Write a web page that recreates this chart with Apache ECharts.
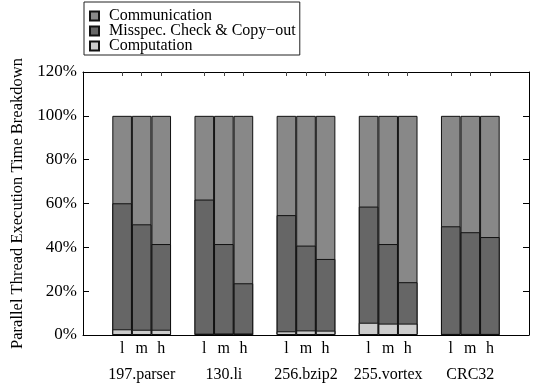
<!DOCTYPE html>
<html>
<head>
<meta charset="utf-8">
<script src="https://cdn.jsdelivr.net/npm/echarts@6/dist/echarts.min.js"></script>
<style>
html,body{margin:0;padding:0;background:#fff;}
#chart{width:536px;height:383px;}
</style>
</head>
<body>
<div id="chart"></div>
<script>
// ---- data ----
var groups = ['197.parser', '130.li', '256.bzip2', '255.vortex', 'CRC32'];
var levels = ['l', 'm', 'h'];
// values per bar (group-major, then l/m/h), percent of total time
var computation   = [2.6, 2.4, 2.4,  0.6, 0.7, 0.7,  1.7, 2.1, 2.0,  5.6, 5.2, 5.2,  0.5, 0.5, 0.5];
var misspec       = [57.5, 48.1, 39.1,  61.2, 40.8, 22.9,  53.0, 38.7, 32.7,  53.0, 36.3, 18.9,  49.1, 46.4, 44.2];
var communication = [39.9, 49.5, 58.5,  38.2, 58.5, 76.4,  45.3, 59.2, 65.3,  41.4, 58.5, 75.9,  50.4, 53.1, 55.3];
var yTicks = [0, 20, 40, 60, 80, 100, 120];

// ---- layout helpers ----
var BAR_UNIT = 5;      // one bar = 5 x-units
var GROUP_STRIDE = 21; // x-units between groups
var FONT = 'Liberation Serif';

var barPos = [], barLabel = {}, groupPos = [], groupLabel = {};
groups.forEach(function (g, gi) {
  levels.forEach(function (lv, li) {
    var x = gi * GROUP_STRIDE + li * BAR_UNIT;
    barPos.push(x);
    barLabel[x] = lv;
  });
  var c = gi * GROUP_STRIDE + BAR_UNIT;
  groupPos.push(c);
  groupLabel[c] = g;
});

function cumulative(parts) {
  return barPos.map(function (x, i) {
    var s = 0;
    parts.forEach(function (p) { s += p[i]; });
    return [x, s];
  });
}

var colors = { comm: '#888888', mis: '#666666', comp: '#cccccc' };
function barSeries(name, color, data) {
  return {
    name: name, type: 'bar', data: data,
    barWidth: 19.6, barGap: '-100%',
    itemStyle: { color: color, borderColor: '#111', borderWidth: 1 },
    emphasis: { disabled: true }, animation: false
  };
}
var axisLine = { show: true, onZero: false, lineStyle: { color: '#000', width: 1 } };

var chart = echarts.init(document.getElementById('chart'), null, { renderer: 'canvas' });
chart.setOption({
  animation: false,
  textStyle: { fontFamily: FONT },
  legend: {
    orient: 'vertical', left: 84, top: 2,
    data: ['Communication', 'Misspec. Check & Copy\u2212out', 'Computation'],
    icon: 'rect', itemWidth: 9, itemHeight: 9, itemGap: -1,
    padding: [6, 4, 1, 5],
    borderColor: '#222', borderWidth: 1,
    textStyle: { fontFamily: FONT, fontSize: 16, color: '#000', lineHeight: 15, padding: [0, 0, 0, 5] },
    selectedMode: false
  },
  grid: { left: 83, right: 7, top: 72, bottom: 48, containLabel: false, outerBoundsMode: 'none' },
  xAxis: [
    {
      type: 'value', min: -10, max: 104, position: 'bottom',
      axisLine: axisLine,
      axisTick: { show: true, inside: true, length: 4, customValues: barPos, lineStyle: { color: '#000' } },
      axisLabel: { show: true, customValues: barPos, margin: 6, fontSize: 16, color: '#000', fontFamily: FONT,
        formatter: function (v) { return barLabel[v] || ''; } },
      splitLine: { show: false }
    },
    {
      type: 'value', min: -10, max: 104, position: 'bottom', offset: 27,
      axisLine: { show: false, onZero: false }, axisTick: { show: false },
      axisLabel: { show: true, customValues: groupPos, margin: 5, fontSize: 16, color: '#000', fontFamily: FONT,
        formatter: function (v) { return groupLabel[v] || ''; } },
      splitLine: { show: false }
    },
    {
      type: 'value', min: -10, max: 104, position: 'top',
      axisLine: axisLine,
      axisTick: { show: true, inside: true, length: 4, customValues: barPos, lineStyle: { color: '#444' } },
      axisLabel: { show: false }, splitLine: { show: false }
    }
  ],
  yAxis: [
    {
      type: 'value', min: 0, max: 120, interval: 20, position: 'left',
      name: 'Parallel Thread Execution Time Breakdown', nameLocation: 'middle', nameGap: 56,
      nameTextStyle: { fontFamily: FONT, fontSize: 16.5, color: '#000' },
      axisLine: axisLine,
      axisTick: { show: true, inside: true, length: 6, customValues: yTicks, lineStyle: { color: '#000' } },
      axisLabel: { fontSize: 17, color: '#000', fontFamily: FONT, margin: 6, formatter: '{value}%' },
      splitLine: { show: false }
    },
    {
      type: 'value', min: 0, max: 120, interval: 20, position: 'right',
      axisLine: axisLine,
      axisTick: { show: true, inside: true, length: 6, lineStyle: { color: '#000' } },
      axisLabel: { show: false }, splitLine: { show: false }
    }
  ],
  series: [
    barSeries('Communication', colors.comm, cumulative([computation, misspec, communication])),
    barSeries('Misspec. Check & Copy\u2212out', colors.mis, cumulative([computation, misspec])),
    barSeries('Computation', colors.comp, cumulative([computation]))
  ]
});
</script>
</body>
</html>
